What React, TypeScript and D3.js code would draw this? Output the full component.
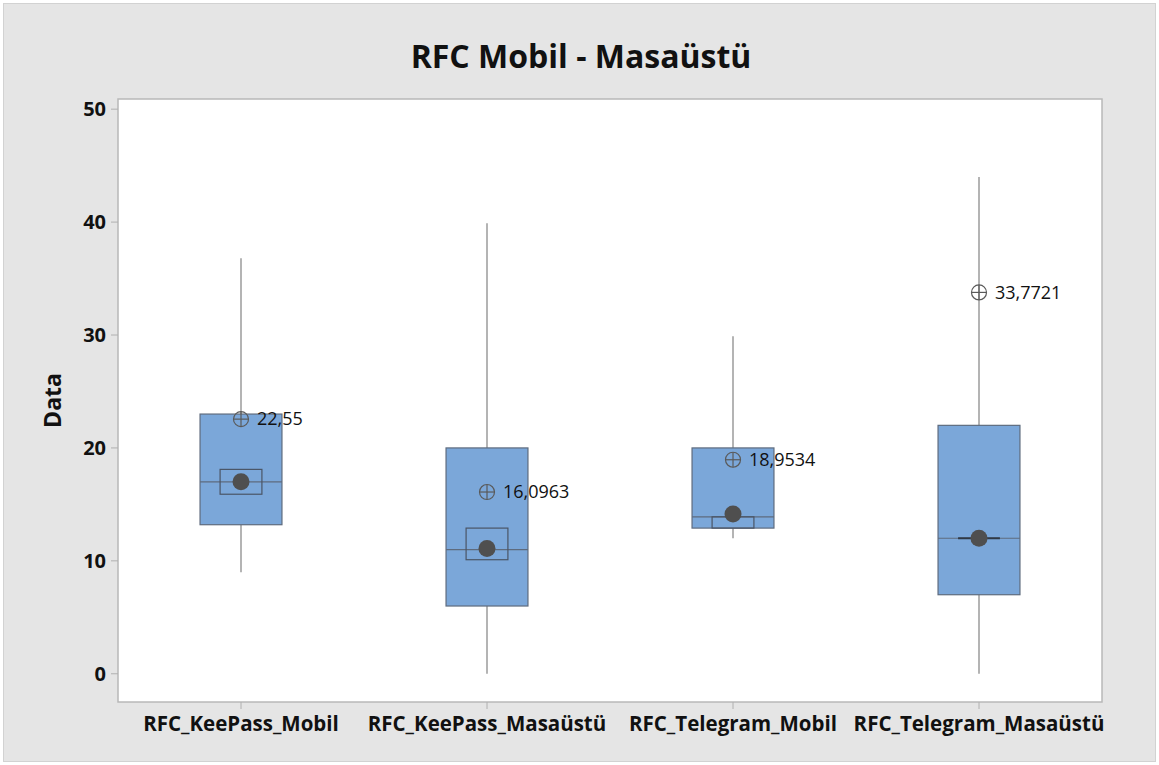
import React from "react";
import * as d3 from "d3";

const categories = ["RFC_KeePass_Mobil", "RFC_KeePass_Masaüstü", "RFC_Telegram_Mobil", "RFC_Telegram_Masaüstü"];
const whiskerLow = [9, 0, 12, 0];
const q1 = [13.2, 6, 12.9, 7];
const median = [17, 11, 13.9, 12];
const q3 = [23, 20, 20, 22];
const whiskerHigh = [36.8, 39.9, 29.9, 44];
const ciLow = [15.9, 10.1, 12.9, 12];
const ciHigh = [18.1, 12.9, 13.9, 12];
const dotValues = [17, 11.1, 14.15, 12];
const means = [22.55, 16.0963, 18.9534, 33.7721];
const meanLabels = ["22,55", "16,0963", "18,9534", "33,7721"];
const yTicks = [0, 10, 20, 30, 40, 50];

const W = 1159;
const H = 765;
const font = "'Open Sans', 'Noto Sans', sans-serif";

export default function App() {
  const y = d3.scaleLinear().domain([-2.5, 50.9]).range([702, 99]);
  const x = d3.scaleBand<string>().domain(categories).range([118, 1102]).paddingInner(0).paddingOuter(0);
  const bw = x.bandwidth();
  const boxW = bw * 0.333;
  const ciW = bw * 0.17;
  const [y0, y1] = y.range();
  const [x0, x1] = x.range();

  return (
    <svg width={W} height={H} style={{ position: "absolute", left: 0, top: 0 }} fontFamily={font}>
      <rect x={0} y={0} width={W} height={H} fill="#ffffff" />
      <rect x={3.5} y={3.5} width={1152} height={758} fill="#e5e5e5" stroke="#d2d2d2" />
      <rect x={x0} y={y1} width={x1 - x0} height={y0 - y1} fill="#ffffff" stroke="#b8b8b8" strokeWidth={1.5} />
      <text x={581} y={68} textAnchor="middle" fontSize={32} fontWeight={700} fill="#111">RFC Mobil - Masaüstü</text>
      {yTicks.map((t) => (
        <g key={t}>
          <line x1={x0 - 7} x2={x0} y1={y(t)} y2={y(t)} stroke="#b0b0b0" />
          <text x={x0 - 12} y={y(t)} dy="0.35em" textAnchor="end" fontSize={20} fontWeight={700} fill="#111">{t}</text>
        </g>
      ))}
      <text transform={`translate(61,${(y0 + y1) / 2}) rotate(-90)`} textAnchor="middle" fontSize={23} fontWeight={700} fill="#111">Data</text>
      {categories.map((c, i) => {
        const cx = (x(c) as number) + bw / 2;
        const degenerate = ciHigh[i] === ciLow[i];
        return (
          <g key={c}>
            <line x1={cx} x2={cx} y1={y0} y2={y0 + 7} stroke="#b0b0b0" />
            <text x={cx} y={y0 + 29} textAnchor="middle" fontSize={20.5} fontWeight={700} fill="#111">{c}</text>
            <line x1={cx} x2={cx} y1={y(whiskerHigh[i])} y2={y(q3[i])} stroke="#8c8c8c" strokeWidth={1.3} />
            <line x1={cx} x2={cx} y1={y(q1[i])} y2={y(whiskerLow[i])} stroke="#8c8c8c" strokeWidth={1.3} />
            <rect x={cx - boxW / 2} y={y(q3[i])} width={boxW} height={y(q1[i]) - y(q3[i])} fill="#7ba7d9" stroke="#5e6b7e" strokeWidth={1.2} />
            <line x1={cx - boxW / 2} x2={cx + boxW / 2} y1={y(median[i])} y2={y(median[i])} stroke="#5e6b7e" strokeWidth={1.2} />
            {degenerate ? (
              <line x1={cx - ciW / 2} x2={cx + ciW / 2} y1={y(ciLow[i])} y2={y(ciLow[i])} stroke="#2f3845" strokeWidth={2.2} />
            ) : (
              <rect x={cx - ciW / 2} y={y(ciHigh[i])} width={ciW} height={y(ciLow[i]) - y(ciHigh[i])} fill="none" stroke="#4a5566" strokeWidth={1.2} />
            )}
            <circle cx={cx} cy={y(dotValues[i])} r={8.5} fill="#4f4f4f" />
            <circle cx={cx} cy={y(means[i])} r={7.5} fill="none" stroke="#5a5a5a" strokeWidth={1.2} />
            <line x1={cx - 7.5} x2={cx + 7.5} y1={y(means[i])} y2={y(means[i])} stroke="#5a5a5a" strokeWidth={1.2} />
            <line x1={cx} x2={cx} y1={y(means[i]) - 7.5} y2={y(means[i]) + 7.5} stroke="#5a5a5a" strokeWidth={1.2} />
            <text x={cx + 16} y={y(means[i])} dy="0.35em" fontSize={18} fill="#111">{meanLabels[i]}</text>
          </g>
        );
      })}
    </svg>
  );
}
